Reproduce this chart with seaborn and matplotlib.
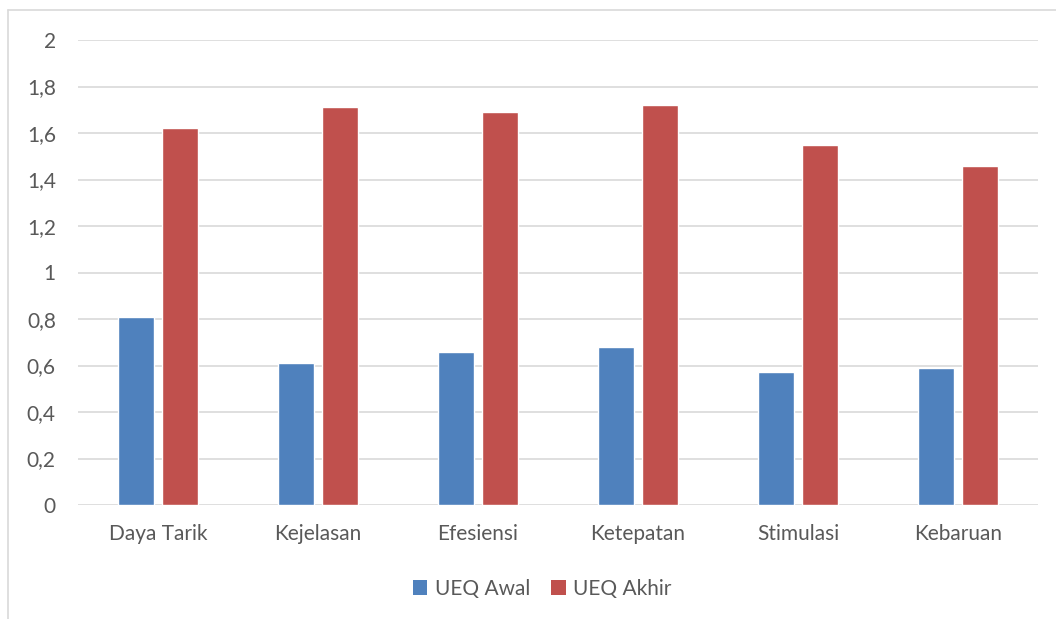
import matplotlib
matplotlib.use("Agg")
import matplotlib.pyplot as plt
from matplotlib.lines import Line2D
from matplotlib.patches import Patch
from matplotlib.ticker import FuncFormatter
import seaborn as sns
import pandas as pd

categories = ["Daya Tarik", "Kejelasan", "Efesiensi", "Ketepatan", "Stimulasi", "Kebaruan"]
ueq_awal = [0.81, 0.61, 0.66, 0.68, 0.57, 0.59]
ueq_akhir = [1.62, 1.71, 1.69, 1.72, 1.55, 1.46]
series_names = ["UEQ Awal", "UEQ Akhir"]
y_ticks = [0, 0.2, 0.4, 0.6, 0.8, 1.0, 1.2, 1.4, 1.6, 1.8, 2.0]

df = pd.DataFrame({
    "Kategori": categories * 2,
    "Nilai": ueq_awal + ueq_akhir,
    "Seri": [series_names[0]] * len(categories) + [series_names[1]] * len(categories),
})

sns.set_theme(style="white")
plt.rcParams["font.family"] = ["Lato", "DejaVu Sans"]

text_color = "#595959"
grid_color = "#D9D9D9"
palette = {"UEQ Awal": "#4F81BD", "UEQ Akhir": "#C0504D"}

W, H = 1056, 619
fig = plt.figure(figsize=(W / 100, H / 100), dpi=100)
ax = fig.add_axes([78 / W, 1 - 505 / H, (1038 - 78) / W, (505 - 40) / H])

sns.barplot(data=df, x="Kategori", y="Nilai", hue="Seri", palette=palette,
            width=0.56, gap=0.2, ax=ax, legend=False, saturation=1)

ax.set_ylim(0, 2)
ax.set_xlim(-0.5, len(categories) - 0.5)
ax.set_yticks(y_ticks)
ax.yaxis.set_major_formatter(FuncFormatter(lambda v, p: ("%g" % round(v, 1)).replace(".", ",")))
ax.grid(axis="y", color=grid_color, linewidth=1.2)
ax.set_axisbelow(True)
for s in ax.spines.values():
    s.set_visible(False)
ax.tick_params(axis="both", length=0, labelsize=15, colors=text_color)
ax.tick_params(axis="y", pad=16)
ax.tick_params(axis="x", pad=14)
ax.set_xlabel("")
ax.set_ylabel("")

handles = [Patch(facecolor=palette[n], edgecolor="none") for n in series_names]
fig.legend(handles, series_names, loc="center", bbox_to_anchor=(542 / W, 1 - 589 / H),
           ncol=2, frameon=False, fontsize=15, labelcolor=text_color,
           handlelength=0.7, handleheight=0.7, handletextpad=0.35, columnspacing=1.0)

# outer chart frame (top and left edges)
fig.add_artist(Line2D([8 / W, 1], [1 - 10 / H, 1 - 10 / H], transform=fig.transFigure,
                      color=grid_color, linewidth=1.2))
fig.add_artist(Line2D([8 / W, 8 / W], [0, 1 - 10 / H], transform=fig.transFigure,
                      color=grid_color, linewidth=1.2))

fig.savefig("out.png", dpi=100, facecolor="white")
